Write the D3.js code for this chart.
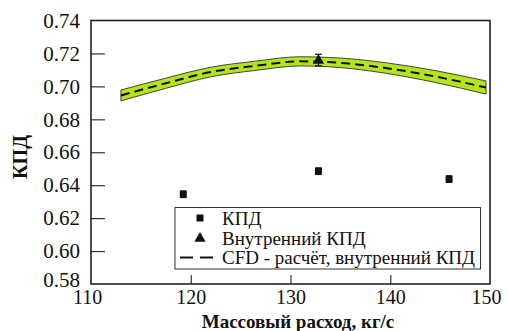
<!DOCTYPE html>
<html><head><meta charset="utf-8">
<script src="https://cdn.jsdelivr.net/npm/d3@7"></script>
<style>
html,body{margin:0;padding:0;background:#fff;}
svg{display:block;}
text{font-family:"Liberation Serif","Times New Roman",serif;fill:#111;}
</style></head>
<body>
<svg id="chart" width="508" height="331"></svg>
<script>
// Data
const xTicks = [110, 120, 130, 140, 150];
const yTicks = [0.58, 0.60, 0.62, 0.64, 0.66, 0.68, 0.70, 0.72, 0.74];
const kpdX = [119.25, 132.8, 145.9];
const kpdY = [0.6345, 0.6485, 0.6437];
const kpdErr = [0.002, 0.002, 0.002];
const innerX = [132.8];
const innerY = [0.716];
const innerErr = [0.0035];
const cfdX = [113, 117.5, 122, 126.5, 131, 135, 139.5, 144.5, 149.6];
const cfdY = [0.6945, 0.7019, 0.7087, 0.7125, 0.7152, 0.7143, 0.7112, 0.7060, 0.6993];
const cfdLo = [0.6912, 0.6988, 0.7058, 0.7097, 0.7124, 0.7114, 0.7080, 0.7024, 0.6953];
const cfdHi = [0.6978, 0.7050, 0.7116, 0.7153, 0.7180, 0.7172, 0.7144, 0.7096, 0.7033];
const legendLabels = ["КПД", "Внутренний КПД", "CFD - расчёт, внутренний КПД"];
const xTitle = "Массовый расход, кг/с";
const yTitle = "КПД";

const svg = d3.select("#chart");
const L = 91, R = 490, T = 20.5, B = 284;
const x = d3.scaleLinear().domain([110, 150]).range([L, R]);
const y = d3.scaleLinear().domain([0.58, 0.74]).range([B, T]);

// Band
const band = cfdX.map((d, i) => ({x: d, lo: cfdLo[i], hi: cfdHi[i], c: cfdY[i]}));
const area = d3.area().x(d => x(d.x)).y0(d => y(d.lo)).y1(d => y(d.hi)).curve(d3.curveMonotoneX);
svg.append("path").datum(band).attr("d", area)
  .attr("fill", "#b4e41c").attr("stroke", "#444").attr("stroke-width", 1);

// CFD dashed line
const line = d3.line().x(d => x(d.x)).y(d => y(d.c)).curve(d3.curveMonotoneX);
svg.append("path").datum(band).attr("d", line)
  .attr("fill", "none").attr("stroke", "#111").attr("stroke-width", 2)
  .attr("stroke-dasharray", "9,5");

// Axes
const xAxis = d3.axisBottom(x).tickValues(xTicks).tickSize(-9).tickPadding(6).tickFormat(d3.format("d"));
const gx = svg.append("g").attr("transform", `translate(0,${B})`).call(xAxis);
const yAxis = d3.axisLeft(y).tickValues(yTicks).tickSize(-14).tickPadding(11).tickFormat(d3.format(".2f"));
const gy = svg.append("g").attr("transform", `translate(${L},0)`).call(yAxis);
[gx, gy].forEach(g => {
  g.attr("font-family", null);
  g.select(".domain").remove();
  g.selectAll(".tick line").attr("stroke", "#333").attr("stroke-width", 1.2);
  g.selectAll(".tick text").attr("fill", "#111");
});
gy.selectAll(".tick text").style("font-size", "21px");
gx.selectAll(".tick text").style("font-size", "20px");
gy.selectAll(".tick").filter(d => d === 0.58 || d === 0.74).select("line").remove();
gx.selectAll(".tick").filter(d => d === 110 || d === 150).select("line").remove();
gy.selectAll(".tick").filter(d => d === 0.58).select("text").attr("dy", "0.12em");
gx.selectAll(".tick").filter(d => d === 110).select("text").attr("dx", "-4");
gx.selectAll(".tick").filter(d => d === 150).select("text").attr("dx", "-4");

// Frame
svg.append("rect").attr("x", L).attr("y", T).attr("width", R - L).attr("height", B - T)
  .attr("fill", "none").attr("stroke", "#222").attr("stroke-width", 1.6);

// Error bars helper
function errBars(xs, ys, es, cap) {
  xs.forEach((xv, i) => {
    const cx = x(xv), y1 = y(ys[i] + es[i]), y2 = y(ys[i] - es[i]);
    svg.append("line").attr("x1", cx).attr("x2", cx).attr("y1", y1).attr("y2", y2).attr("stroke", "#111").attr("stroke-width", 1.2);
    [y1, y2].forEach(yy => svg.append("line").attr("x1", cx - cap).attr("x2", cx + cap).attr("y1", yy).attr("y2", yy).attr("stroke", "#111").attr("stroke-width", 1.2));
  });
}
errBars(kpdX, kpdY, kpdErr, 3);
errBars(innerX, innerY, innerErr, 3.5);

// Square markers
svg.selectAll(".sq").data(kpdX).enter().append("rect")
  .attr("x", d => x(d) - 3.5).attr("y", (d, i) => y(kpdY[i]) - 3.5)
  .attr("width", 7).attr("height", 7).attr("fill", "#111");

// Triangle markers
const tri = d3.symbol().type(d3.symbolTriangle).size(55);
svg.selectAll(".tri").data(innerX).enter().append("path")
  .attr("d", tri).attr("transform", (d, i) => `translate(${x(d)},${y(innerY[i]) + 0.5})`).attr("fill", "#111");

// Legend
const lg = svg.append("g");
lg.append("rect").attr("x", 175).attr("y", 207.5).attr("width", 305.5).attr("height", 61.5)
  .attr("fill", "#fff").attr("stroke", "#333").attr("stroke-width", 1);
const rowsY = [218, 238, 257.5];
lg.append("rect").attr("x", 196.5).attr("y", rowsY[0] - 3.5).attr("width", 7).attr("height", 7).attr("fill", "#111");
lg.append("path").attr("d", tri).attr("transform", `translate(200,${rowsY[1] + 0.5})`).attr("fill", "#111");
lg.append("line").attr("x1", 180).attr("x2", 218).attr("y1", rowsY[2]).attr("y2", rowsY[2])
  .attr("stroke", "#111").attr("stroke-width", 2).attr("stroke-dasharray", "13,7");
legendLabels.forEach((t, i) => {
  lg.append("text").attr("x", 222).attr("y", rowsY[i]).attr("dy", "0.35em")
    .style("font-size", "19px").text(t);
});

// Titles
svg.append("text").attr("x", 298).attr("y", 328).attr("text-anchor", "middle")
  .style("font-size", "19px").style("font-weight", "bold").text(xTitle);
svg.append("text").attr("transform", "translate(27,157) rotate(-90)").attr("text-anchor", "middle")
  .style("font-size", "20px").style("font-weight", "bold").text(yTitle);
</script>
</body></html>
